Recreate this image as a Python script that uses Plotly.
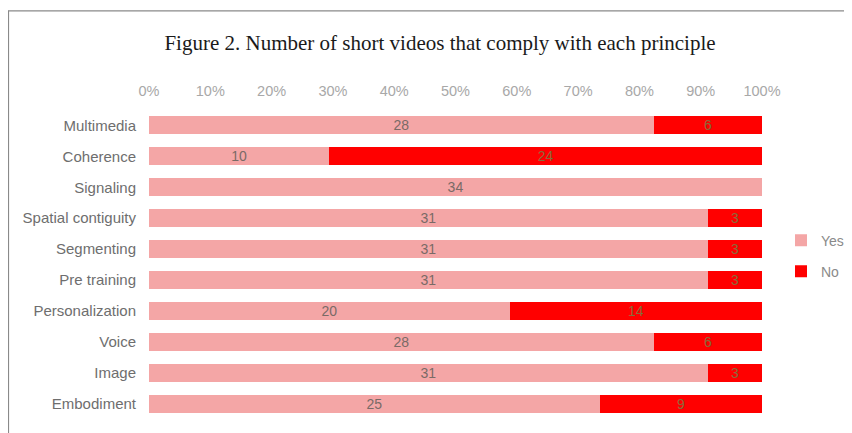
import plotly.graph_objects as go

categories = ["Multimedia", "Coherence", "Signaling", "Spatial contiguity", "Segmenting",
              "Pre training", "Personalization", "Voice", "Image", "Embodiment"]
yes_values = [28, 10, 34, 31, 31, 31, 20, 28, 31, 25]
no_values = [6, 24, 0, 3, 3, 3, 14, 6, 3, 9]
tick_values = [0, 10, 20, 30, 40, 50, 60, 70, 80, 90, 100]
tick_labels = [f"{v}%" for v in tick_values]

# the page is shown with an 8px body margin, so work in figure coordinates
OFF = 8
W, H = 852 - OFF, 433 - OFF
L, R = 149 - OFF, 762 - OFF
T, B = 109.5 - OFF, 419.5 - OFF

def lab(vals):
    return [str(v) if v else "" for v in vals]

fig = go.Figure()
fig.add_trace(go.Bar(
    y=categories, x=yes_values, orientation="h", name="Yes", legendgroup="yes",
    marker=dict(color="#F4A6A6", line=dict(width=0)),
    text=lab(yes_values), textposition="inside", insidetextanchor="middle", textangle=0,
    textfont=dict(color="#7a6a66", size=14, family="Liberation Sans, Arial"),
    constraintext="none",
))
fig.add_trace(go.Bar(
    y=categories, x=no_values, orientation="h", name="No", legendgroup="no",
    marker=dict(color="#FF0000", line=dict(width=0)),
    text=lab(no_values), textposition="inside", insidetextanchor="middle", textangle=0,
    textfont=dict(color="#8a6a3a", size=14, family="Liberation Sans, Arial"),
    constraintext="none",
))

def px_x(px):
    return (px - OFF - L) / (R - L)

def px_y(py):
    return (B - (py - OFF)) / (B - T)

fig.update_layout(
    width=W, height=H,
    barmode="stack", barnorm="percent", bargap=0.42,
    paper_bgcolor="white", plot_bgcolor="white",
    margin=dict(l=L, r=W - R, t=T, b=H - B, autoexpand=False),
    title=dict(text="Figure 2. Number of short videos that comply with each principle",
               x=(440 - OFF) / W, xanchor="center", xref="container",
               y=1 - (43 - OFF) / H, yanchor="middle",
               font=dict(family="Liberation Serif, DejaVu Serif, serif", size=21, color="#1a1a1a")),
    xaxis=dict(side="top", range=[0, 100], tickvals=tick_values, ticktext=tick_labels,
               showgrid=False, zeroline=False, showline=False, ticks="",
               ticklabelstandoff=10,
               tickfont=dict(family="Liberation Sans, Arial", size=14.5, color="#a8a8a8")),
    yaxis=dict(categoryorder="array", categoryarray=categories[::-1],
               showgrid=False, zeroline=False, showline=False, ticks="",
               ticklabelstandoff=12,
               tickfont=dict(family="Liberation Sans, Arial", size=15, color="#6e6e6e")),
    legend=dict(x=px_x(781), xanchor="left", y=px_y(256), yanchor="middle",
                traceorder="grouped", itemwidth=30, tracegroupgap=10,
                font=dict(family="Liberation Sans, Arial", size=14, color="#8a8a8a")),
    showlegend=True,
)

# frame lines of the original screenshot
fig.add_shape(type="line", xref="paper", yref="paper",
              x0=px_x(5), x1=px_x(860), y0=px_y(10), y1=px_y(10),
              line=dict(color="#8a8a8a", width=1.2))
fig.add_shape(type="line", xref="paper", yref="paper",
              x0=px_x(8.5), x1=px_x(8.5), y0=px_y(10), y1=px_y(440),
              line=dict(color="#8a8a8a", width=1.2))

fig.write_html("out.html")
